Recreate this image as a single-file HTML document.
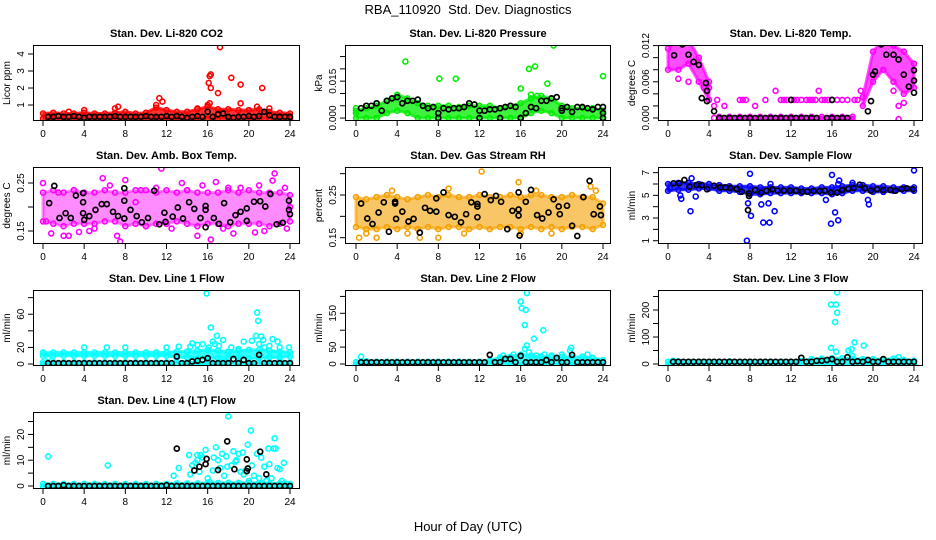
<!DOCTYPE html>
<html><head><meta charset="utf-8"><title>RBA_110920 Std. Dev. Diagnostics</title>
<style>
html,body{margin:0;padding:0;background:#fff;}
svg{display:block;font-family:"Liberation Sans",Arial,sans-serif;}
</style></head>
<body>
<svg id="chart" width="936" height="540" viewBox="0 0 936 540">
<text x="468" y="14" text-anchor="middle" font-size="13">RBA_110920&#160; Std. Dev. Diagnostics</text>
<text x="468" y="531" text-anchor="middle" font-size="13">Hour of Day (UTC)</text>
</svg>
<script>
// ---- shared categories ----
const hours = [0,1,2,3,4,5,6,7,8,9,10,11,12,13,14,15,16,17,18,19,20,21,22,23,24];
const halfHours = [0.5,1,1.5,2,2.5,3,3.5,4,4.5,5,5.5,6,6.5,7,7.5,8,8.5,9,9.5,10,10.5,11,11.5,12,12.5,13,13.5,14,14.5,15,15.5,16,16.5,17,17.5,18,18.5,19,19.5,20,20.5,21,21.5,22,22.5,23,23.5,24];
const xTicks = [0,4,8,12,16,20,24];

// ---- Panel 1: CO2 ----
const co2Lo = [0.2,0.2,0.2,0.2,0.2,0.2,0.2,0.2,0.2,0.2,0.2,0.2,0.2,0.2,0.2,0.2,0.2,0.2,0.2,0.2,0.2,0.2,0.2,0.2,0.2];
const co2Hi = [0.5,0.55,0.5,0.5,0.55,0.5,0.5,0.55,0.6,0.5,0.55,0.85,0.7,0.6,0.6,0.75,0.9,0.75,0.75,0.7,0.7,0.75,0.6,0.55,0.5];
const co2Extra = [[16.2,2.7],[16.3,2.8],[16.1,2.3],[16.3,2.0],[16.2,1.1],[16,1.0],[17.2,4.4],[17,1.7],[18.3,2.6],[19.2,2.2],[19.2,1.1],[21.3,2.0],[11,1.0],[11.3,1.4],[11.6,1.2],[7,0.8],[7.3,0.9],[15,0.8],[20.8,0.9],[22,0.8],[4,0.7],[2.5,0.6]];
const co2Black = [0.3,0.3,0.35,0.3,0.3,0.35,0.3,0.25,0.3,0.3,0.3,0.3,0.3,0.35,0.3,0.3,0.3,0.3,0.3,0.35,0.3,0.3,0.3,0.35,0.3,0.35,0.3,0.25,0.3,0.35,0.3,0.6,0.3,0.45,0.5,0.3,0.25,0.3,0.3,0.35,0.3,0.35,0.6,0.4,0.3,0.3,0.3,0.3];

// ---- Panel 2: Pressure ----
const presLo = [0,0,0,0.002,0.003,0.002,0,0,0,0,0,0,0,0,0,0,0,0.002,0.003,0.002,0,0,0,0,0];
const presHi = [0.003,0.004,0.005,0.007,0.0095,0.008,0.006,0.005,0.005,0.005,0.0045,0.005,0.005,0.005,0.004,0.005,0.006,0.008,0.009,0.008,0.005,0.004,0.004,0.004,0.003];
const presExtra = [[4.8,0.023],[8.1,0.016],[9.7,0.016],[16,0.012],[16.8,0.020],[17.4,0.021],[17.0,0.0095],[17.6,0.009],[18.6,0.014],[19.2,0.0295],[24,0.017],[2,0.006],[0,0.002],[0,0.004]];
const presBlack = [0.004,0.005,0.005,0.006,0.003,0.007,0.008,0.0085,0.006,0.007,0.007,0.0075,0.005,0.004,0.0045,0.002,0.004,0.0035,0.004,0.004,0.0045,0.006,0.0055,0.003,0.003,0.0035,0.0035,0.004,0.0045,0.005,0.0045,0.0,0.002,0.0045,0.004,0.007,0.007,0.008,0.0085,0.003,0.0045,0.0025,0.0045,0.0045,0.004,0.0035,0.0045,0.0045];
const presBlackExtra = [[8,0],[12,0],[14,0],[16,0],[24,0],[24,0.002],[20,0.004]];

// ---- Panel 3: Temp ----
const tempLo = [0.008,0.008,0.009,0.006,0.003,null,null,null,null,null,null,null,null,null,null,null,null,null,null,0.002,0.006,0.008,0.006,0.004,0.005];
const tempHi = [0.0115,0.013,0.013,0.010,0.006,null,null,null,null,null,null,null,null,null,null,null,null,null,null,0.0035,0.011,0.013,0.012,0.011,0.009];
const tempZeroLo = [null,null,null,null,null,-0.0002,-0.0002,-0.0002,-0.0002,-0.0002,-0.0002,-0.0002,-0.0002,-0.0002,-0.0002,-0.0002,-0.0002,-0.0002,-0.0002,null,null,null,null,null,null];
const tempZeroHi = [null,null,null,null,null,0.0002,0.0002,0.0002,0.0002,0.0002,0.0002,0.0002,0.0002,0.0002,0.0002,0.0002,0.0002,0.0002,0.0002,null,null,null,null,null,null];
const tempExtra = [[4.5,0],[4.5,0.002],[4.8,0.003],[5.5,0.002],[7,0.003],[8.5,0.002],[9.5,0.003],[10.5,0.0045],[11,0.003],[11.3,0.003],[11.6,0.003],[12,0.003],[12.3,0.003],[12.6,0.003],[13.5,0.003],[13.8,0.003],[14.1,0.003],[14.4,0.003],[14.7,0.0045],[15,0.003],[15.3,0.003],[15.6,0.003],[16,0.003],[17,0.003],[18.5,0.003],[18.8,0.0045],[1,0.0065],[2,0.006],[3.5,0.005],[4,0.005],[22.5,0.002],[22.5,-0.0002],[22,0.0045],[23,0.0025],[7.3,0.003],[7.6,0.003],[13,0.003],[16.5,0.003],[17.5,0.003],[18.2,0.003]];
const tempBlack = [[0.6,0.0104],[1.4,0.0122],[2.0,0.0105],[2.5,0.0093],[3.0,0.0088],[3.7,0.0058],[3.8,0.0045],[3.3,0.0033],[3.8,0.0028],[4.5,0.0011],[5,0],[5.5,0],[6,0],[6.5,0],[7,0],[7.5,0],[8,0],[8.5,0],[9,0],[9.5,0],[10,0],[10.5,0],[11,0],[11.5,0],[12,0],[12,0.003],[12.5,0],[13,0],[13.5,0],[14,0],[14.5,0],[15.5,0],[16,0],[16,0.003],[16.5,0],[17,0],[17.5,0],[19.5,0.0011],[19.8,0.0028],[20.2,0.0077],[20,0.0072],[20.8,0.0122],[21.3,0.0105],[22,0.0105],[22.5,0.0097],[23,0.0072],[23.5,0.0052],[24,0.0062],[24,0.0042],[24,0.0079]];

// ---- Panel 4: Amb Box Temp ----
const ambLo = [0.17,0.165,0.16,0.165,0.165,0.165,0.17,0.17,0.16,0.165,0.16,0.165,0.165,0.17,0.165,0.16,0.165,0.165,0.16,0.165,0.165,0.165,0.16,0.165,0.17];
const ambHi = [0.23,0.235,0.23,0.235,0.23,0.23,0.235,0.23,0.23,0.235,0.235,0.23,0.235,0.23,0.235,0.23,0.23,0.23,0.235,0.23,0.235,0.23,0.23,0.23,0.225];
const ambExtra = [[0,0.25],[0.3,0.17],[0.8,0.145],[2,0.14],[2.5,0.14],[3.5,0.148],[5.8,0.26],[6.5,0.245],[7.5,0.128],[7.2,0.14],[8,0.256],[9,0.21],[11.5,0.28],[11,0.24],[13.5,0.25],[15,0.14],[15.5,0.245],[16.3,0.132],[16.8,0.252],[18.5,0.145],[19.2,0.24],[20,0.288],[20.6,0.147],[21.5,0.15],[22.5,0.27],[22.3,0.255],[23.5,0.24],[23.7,0.155],[24,0.2],[4.5,0.15],[10,0.16],[12.5,0.155],[18,0.24],[1.5,0.23],[3,0.235],[14,0.235],[9.5,0.235],[5,0.155],[17.5,0.155],[21,0.245]];
const ambBlack = [[0.6,0.208],[1.1,0.244],[1.6,0.177],[2.2,0.187],[2.7,0.177],[3.2,0.224],[3.9,0.21],[3.9,0.229],[3.9,0.187],[4,0.173],[4.5,0.181],[5.1,0.194],[5.7,0.206],[6.2,0.206],[6.8,0.19],[7.3,0.181],[7.9,0.239],[7.9,0.213],[7.9,0.176],[8.5,0.194],[9.1,0.181],[9.6,0.168],[10.2,0.177],[10.8,0.234],[11.3,0.164],[11.8,0.188],[11.9,0.169],[12.6,0.18],[13.1,0.199],[13.6,0.176],[14.2,0.21],[14.7,0.196],[15.3,0.177],[15.8,0.202],[15.8,0.194],[15.8,0.158],[16.6,0.177],[17.1,0.165],[17.6,0.208],[18.2,0.168],[18.7,0.183],[19.2,0.19],[19.8,0.197],[19.8,0.171],[20.5,0.211],[21.1,0.212],[21.6,0.201],[22.1,0.227],[22.7,0.164],[23.3,0.167],[23.9,0.213],[23.9,0.194],[24,0.185]];

// ---- Panel 5: Gas Stream RH ----
const rhLo = [0.175,0.17,0.17,0.175,0.17,0.175,0.17,0.175,0.17,0.175,0.175,0.17,0.175,0.17,0.175,0.175,0.17,0.175,0.17,0.175,0.17,0.175,0.175,0.17,0.18];
const rhHi = [0.245,0.24,0.245,0.25,0.245,0.24,0.245,0.25,0.245,0.25,0.245,0.245,0.25,0.245,0.245,0.25,0.245,0.25,0.25,0.245,0.245,0.25,0.245,0.245,0.23];
const rhExtra = [[12.2,0.305],[15.8,0.28],[3.5,0.26],[0.3,0.15],[6.2,0.15],[8,0.15],[23.3,0.26],[2,0.15],[10.5,0.16],[16,0.16],[5,0.16],[19,0.16],[17.5,0.26],[9,0.265],[1,0.16],[22.8,0.27]];
const rhBlack = [[0.5,0.23],[1.1,0.195],[1.6,0.182],[2.2,0.209],[2.7,0.233],[3.2,0.164],[3.8,0.234],[3.8,0.23],[3.9,0.194],[4.5,0.211],[5.1,0.188],[5.6,0.194],[6.2,0.162],[6.7,0.22],[7.2,0.213],[7.8,0.242],[7.8,0.211],[8.5,0.256],[9,0.203],[9.6,0.199],[10.2,0.186],[10.7,0.205],[11.2,0.233],[11.8,0.229],[11.8,0.198],[11.8,0.223],[12.5,0.252],[13.1,0.238],[13.6,0.248],[14.1,0.234],[14.7,0.17],[15.2,0.213],[15.8,0.256],[15.8,0.216],[15.8,0.202],[15.9,0.155],[16.5,0.234],[17,0.262],[17.6,0.203],[18.1,0.195],[18.7,0.209],[19.2,0.24],[19.7,0.223],[19.8,0.205],[20.5,0.225],[21,0.178],[21.5,0.154],[22.1,0.245],[22.7,0.283],[23.1,0.205],[23.7,0.223],[23.8,0.203]];

// ---- Panel 6: Sample Flow ----
const flowLo = [5.4,5.5,5.5,5.6,5.6,5.4,5.4,5.3,5.1,5.1,5.2,5.2,5.2,5.2,5.2,5.2,5.1,5.2,5.4,5.4,5.3,5.3,5.4,5.4,5.4];
const flowHi = [6.0,6.1,6.1,6.0,6.0,5.9,5.8,5.8,5.8,5.7,5.7,5.7,5.7,5.6,5.6,5.7,5.7,5.8,5.9,5.9,5.8,5.8,5.7,5.7,5.7];
const flowExtra = [[2.3,6.5],[2.2,3.6],[2.7,4.9],[1.2,5.0],[1.3,4.7],[7.7,1.0],[7.8,4.3],[8.0,6.9],[8.1,3.2],[9.1,4.2],[9.3,2.6],[9.8,4.3],[9.9,2.6],[10.4,3.6],[15.9,2.5],[16.0,6.8],[16.3,3.5],[16.6,2.8],[16.6,6.0],[16.7,6.3],[15.4,4.6],[19.5,4.6],[19.6,4.2],[24,7.2],[0.2,5.6],[10,6.0],[18,6.1]];
const flowBlack = [[0.55,6.06],[1.1,6.06],[1.6,6.35],[2.1,5.76],[2.8,5.91],[3.3,5.91],[3.8,5.53],[4.5,5.85],[5.1,5.7],[5.6,5.7],[6.1,5.65],[6.7,5.56],[7.2,5.32],[7.8,3.7],[7.9,5.18],[7.9,4.94],[8.5,5.47],[9.1,5.24],[9.6,5.41],[10.2,5.53],[10.7,5.41],[11.3,5.41],[11.9,5.41],[12.5,5.41],[13.1,5.32],[13.6,5.32],[14.2,5.38],[14.8,5.38],[15.3,5.41],[15.9,5.24],[16.5,5.24],[17,5.47],[17.6,5.59],[18.1,5.65],[18.7,5.94],[19.2,5.62],[19.8,5.41],[20.4,5.53],[21,5.47],[21.7,5.47],[22.2,5.41],[22.8,5.56],[23.3,5.62],[23.9,5.53]];

// ---- Panel 7: Line 1 Flow ----
const l1ZeroLo = [-1,-1,-1,-1,-1,-1,-1,-1,-1,-1,-1,-1,-1,-1,-1,-1,-1,-1,-1,-1,-1,-1,-1,-1,-1];
const l1ZeroHi = [2,2,2,2,2,2,2,2,2,2,2,2,2,2,2,2,2,2,2,2,2,2,2,2,2];
const l1Lo = [10,10,10,10,10,10,10,10,10,10,10,10,10,8,8,7,7,7,8,8,7,7,8,8,9];
const l1Hi = [14,14,14,14,14,14,14,14,14,14,14,14,14,15,15,16,17,16,15,16,17,17,16,15,14];
const l1Extra = [[0.5,8],[4,20],[6.2,20],[8,20],[12,20],[13.2,21],[14.5,25],[14.3,21],[15,23],[15.5,24],[15.9,91],[15.9,85],[16.3,44],[16.5,27],[16.9,34],[17.1,22],[17.5,29],[18.3,20],[19.5,27],[20.3,28],[20.7,34],[20.8,62],[20.9,52],[21.2,33],[21.4,29],[21.5,20],[22.3,30],[22.8,27],[23.0,20],[23.9,20],[16.1,20],[16.7,24],[19,18],[21,24],[22,22],[17.5,3],[19,4],[21.8,4],[23,4]];
const l1Black = [1,1,1,1,1,1,1,1,1,1,1,1,1,1,1,1,1,1,1,1,1,1,1,1,1,9,1,1,3,4,5,7,1,1,1,1,6,1,5,1,1,11,1,1,1,1,1,1];

// ---- Panel 8: Line 2 Flow ----
const l2Lo = [-2,-2,-2,-2,-2,-2,-2,-2,-2,-2,-2,-2,-2,-2,-2,-2,-2,-2,-2,-2,-2,-2,-2,-2,-2];
const l2Hi = [6,8,7,7,7,7,7,7,7,7,7,7,7,10,20,22,28,25,22,20,22,20,22,18,12];
const l2Extra = [[0.5,22],[16,185],[16.1,165],[16.5,160],[16.6,210],[16.4,115],[16.6,55],[16.4,45],[16.8,35],[17.3,75],[18.2,100],[20.9,48],[20.8,40],[22.5,28],[17.5,25],[14.3,25],[15.3,28],[18.3,28],[19,25],[20,28]];
const l2Black = [5,5,5,5,5,5,5,5,5,5,5,5,5,5,5,5,5,5,5,5,5,5,5,5,5,27,5,5,15,15,5,24,5,5,5,5,12,5,18,5,5,27,5,5,5,5,5,5];

// ---- Panel 9: Line 3 Flow ----
const l3Lo = [-3,-3,-3,-3,-3,-3,-3,-3,-3,-3,-3,-3,-3,-3,-3,-3,-3,-3,-3,-3,-3,-3,-3,-3,-3];
const l3Hi = [8,10,9,9,9,9,10,9,9,9,9,9,9,12,18,20,22,22,20,18,18,17,20,16,12];
const l3Extra = [[15.9,220],[16.4,220],[16.5,190],[16.3,155],[16.5,265],[15.9,60],[16.4,45],[17.6,50],[17.9,55],[18.2,80],[19.1,68],[18,30],[22.5,25],[0.5,12]];
const l3Black = [8,8,8,8,8,8,8,8,8,8,8,8,8,8,8,8,8,8,8,8,8,8,8,8,8,23,8,8,12,12,15,18,8,8,25,8,10,8,15,8,8,18,8,8,8,8,8,8];

// ---- Panel 10: Line 4 (LT) Flow ----
const l4Lo = [-0.4,-0.4,-0.4,-0.4,-0.4,-0.4,-0.4,-0.4,-0.4,-0.4,-0.4,-0.4,-0.4,-0.4,-0.4,-0.4,-0.4,-0.4,-0.4,-0.4,-0.4,-0.4,-0.4,-0.4,-0.4];
const l4Hi = [0.8,0.8,0.8,0.8,0.8,0.8,0.8,0.8,0.8,0.8,0.8,0.8,0.8,1,1,1,1.2,1.2,1.2,1.2,1.2,1.2,1,1,0.8];
const l4Extra = [[0.5,11.5],[6.3,8],[12.7,4],[13.2,7],[14.2,12],[14.3,4.5],[14.5,8],[15,10],[15,12],[15.2,5.5],[15.5,11],[15.8,14],[16.2,1.5],[16.5,6],[16.8,15],[17,10],[17.2,7],[17.4,12.5],[17.6,4],[17.8,11.5],[17.9,7.5],[18,27],[18.3,8],[18.5,13.5],[18.8,10],[19,12.5],[19.2,5.5],[19.4,13],[19.5,4.5],[19.7,6],[19.9,16],[20.2,21.5],[20.3,8],[20.5,4],[20.8,12.5],[21,3],[21.2,11],[21.5,7.5],[21.7,2],[21.9,14.5],[22,8.5],[22.2,3],[22.4,14.5],[22.5,18.5],[22.6,14.5],[22.8,7],[23,6.5],[23.2,2],[23.4,9],[23.5,1],[21.3,1],[16,3],[20,2],[14.8,9],[15.3,12],[16.6,11],[18.7,9.5]];
const l4Black = [0,0,0,0.3,0,0,0,0,0,0,0,0,0,0,0,0,0,0,0,0,0,0,0,0.3,0,0,0,0,0,0,0,0,0,0,0,0,0,0,0,0,0,0,0,0,0,0,0,0];
const l4BlackExtra = [[13,14.5],[14.7,6],[15.2,7.5],[15.8,8.5],[15.9,10.5],[17,6.2],[17.9,17.3],[18.6,6.5],[19.8,10.3],[19.8,5.8],[19.9,6.8],[21.1,13.3],[21.7,4.5]];

// ---- layout ----
const colL = [33,345,658], colR = [300,611,923], colX0 = [43,356,668], colX24 = [290,603,914];
const rowT = [45,167,290,412], rowB = [121,244,366,489];

function pairs(xs, ys){ return xs.map((x,i)=>[x, ys[i]]); }

const panels = [
 {id:'co2',title:'Stan. Dev. Li-820 CO2',ylab:'Licor ppm',col:'#ff0000',op:0.8,r:0,c:0,dom:[0.06,4.53],ticks:[1,2,3,4],labs:['1','2','3','4'],
  bands:[[co2Lo,co2Hi]],extra:co2Extra,black:pairs(halfHours,co2Black)},
 {id:'pressure',title:'Stan. Dev. Li-820 Pressure',ylab:'kPa',col:'#00ee00',op:0.75,r:0,c:1,dom:[-0.0012,0.0297],ticks:[0,0.005,0.01,0.015,0.02,0.025],labs:['0.000','','','0.015','',''],
  bands:[[presLo,presHi]],extra:presExtra,black:pairs(halfHours,presBlack).concat(presBlackExtra)},
 {id:'temp',title:'Stan. Dev. Li-820 Temp.',ylab:'degrees C',col:'#ff00ff',op:0.7,r:0,c:2,dom:[-0.0005,0.0121],ticks:[0,0.002,0.004,0.006,0.008,0.01,0.012],labs:['0.000','','','0.006','','','0.012'],
  bands:[[tempLo,tempHi],[tempZeroLo,tempZeroHi]],extra:tempExtra,black:tempBlack},
 {id:'amb-box-temp',title:'Stan. Dev. Amb. Box Temp.',ylab:'degrees C',col:'#ff00ff',op:0.45,r:1,c:0,dom:[0.1229,0.2833],ticks:[0.15,0.2,0.25],labs:['0.15','','0.25'],
  bands:[[ambLo,ambHi]],extra:ambExtra,black:ambBlack},
 {id:'gas-rh',title:'Stan. Dev. Gas Stream RH',ylab:'percent',col:'#f5a000',op:0.6,r:1,c:1,dom:[0.1352,0.3156],ticks:[0.15,0.2,0.25,0.3],labs:['0.15','','0.25',''],
  bands:[[rhLo,rhHi]],extra:rhExtra,black:rhBlack},
 {id:'sample-flow',title:'Stan. Dev. Sample Flow',ylab:'ml/min',col:'#0000ff',op:0.8,r:1,c:2,dom:[0.71,7.5],ticks:[1,2,3,4,5,6,7],labs:['1','','3','','5','','7'],
  bands:[[flowLo,flowHi]],extra:flowExtra,black:flowBlack},
 {id:'line1-flow',title:'Stan. Dev. Line 1 Flow',ylab:'ml/min',col:'#00ffff',op:0.8,r:2,c:0,dom:[-2.4,89.2],ticks:[0,20,40,60,80],labs:['0','20','','60',''],
  bands:[[l1ZeroLo,l1ZeroHi],[l1Lo,l1Hi]],extra:l1Extra,black:pairs(halfHours,l1Black)},
 {id:'line2-flow',title:'Stan. Dev. Line 2 Flow',ylab:'ml/min',col:'#00ffff',op:0.8,r:2,c:1,dom:[-5.9,219],ticks:[0,50,100,150,200],labs:['0','50','','150',''],
  bands:[[l2Lo,l2Hi]],extra:l2Extra,black:pairs(halfHours,l2Black)},
 {id:'line3-flow',title:'Stan. Dev. Line 3 Flow',ylab:'ml/min',col:'#00ffff',op:0.8,r:2,c:2,dom:[-7.4,274],ticks:[0,50,100,150,200,250],labs:['0','','100','','200',''],
  bands:[[l3Lo,l3Hi]],extra:l3Extra,black:pairs(halfHours,l3Black)},
 {id:'line4-flow',title:'Stan. Dev. Line 4 (LT) Flow',ylab:'ml/min',col:'#00ffff',op:0.8,r:3,c:0,dom:[-1.16,28.7],ticks:[0,5,10,15,20,25],labs:['0','','10','','20',''],
  bands:[[l4Lo,l4Hi]],extra:l4Extra,black:pairs(halfHours,l4Black).concat(l4BlackExtra)}
];

const NS='http://www.w3.org/2000/svg';
const svg=document.getElementById('chart');
function mk(tag, attrs, parent){
  const e=document.createElementNS(NS,tag);
  for(const k in attrs) e.setAttribute(k,attrs[k]);
  parent.appendChild(e); return e;
}

panels.forEach(p=>{
  const L=colL[p.c], R=colR[p.c], T=rowT[p.r], B=rowB[p.r];
  const x0=colX0[p.c], x24=colX24[p.c];
  const xs=h=>x0+(h/24)*(x24-x0);
  const ys=v=>B-(v-p.dom[0])/(p.dom[1]-p.dom[0])*(B-T);
  const g=mk('g',{},svg);
  
  
  const clipId='clip-'+p.id;
  const cp=mk('clipPath',{id:clipId},g);
  mk('rect',{x:L,y:T,width:R-L,height:B-T},cp);
  const plot=mk('g',{'clip-path':'url(#'+clipId+')'},g);
  
  
  p.bands.forEach((bd)=>{
    const lo=bd[0], hi=bd[1];
    let seg=[];
    const segs=[];
    hours.forEach((h,i)=>{
      if(lo[i]===null||hi[i]===null){ if(seg.length) segs.push(seg); seg=[]; }
      else seg.push(i);
    });
    if(seg.length) segs.push(seg);
    segs.forEach(s=>{
      let d='';
      s.forEach((i,k)=>{ d+=(k?'L':'M')+xs(hours[i]).toFixed(1)+' '+ys(hi[i]).toFixed(1); });
      for(let k=s.length-1;k>=0;k--){ const i=s[k]; d+='L'+xs(hours[i]).toFixed(1)+' '+ys(lo[i]).toFixed(1); }
      d+='Z';
      const path=mk('path',{d:d,fill:p.col,'fill-opacity':p.op,stroke:p.col,'stroke-opacity':p.op,'stroke-width':3,'stroke-linejoin':'round'},plot);
      
      
      s.forEach(i=>{
        [lo[i],hi[i]].forEach(v=>{
          const c=mk('circle',{cx:xs(hours[i]).toFixed(1),cy:ys(v).toFixed(1),r:2.5,fill:'none',stroke:p.col,'stroke-width':1.5},plot);
          
          
        });
      });
    });
  });
  p.extra.forEach(pt=>{
    const c=mk('circle',{cx:xs(pt[0]).toFixed(1),cy:ys(pt[1]).toFixed(1),r:2.5,fill:'none',stroke:p.col,'stroke-width':1.6},plot);
    
    
  });
  p.black.forEach(pt=>{
    const c=mk('circle',{cx:xs(pt[0]).toFixed(1),cy:ys(pt[1]).toFixed(1),r:2.5,fill:'none',stroke:'#000','stroke-width':1.7},plot);
    
    
  });
  const box=mk('rect',{x:L+0.5,y:T+0.5,width:R-L-1,height:B-T-1,fill:'none',stroke:'#000','stroke-width':1},g);
  
  
  const xa=mk('g',{},g);
  
  
  xTicks.forEach(t=>{
    const x=xs(t);
    mk('line',{x1:x,y1:B,x2:x,y2:B+5,stroke:'#000','stroke-width':1},xa);
    const tx=mk('text',{x:x,y:B+16,'text-anchor':'middle','font-size':10},xa);
    tx.textContent=t;
    
    
  });
  const ya=mk('g',{},g);
  
  
  p.ticks.forEach((t,i)=>{
    const y=ys(t);
    mk('line',{x1:L-5,y1:y,x2:L,y2:y,stroke:'#000','stroke-width':1},ya);
    if(p.labs[i]){
      const tx=mk('text',{x:0,y:0,'text-anchor':'middle','font-size':10,transform:'translate('+(L-9)+','+y.toFixed(1)+') rotate(-90)'},ya);
      tx.textContent=p.labs[i];
      
      
    }
  });
  const yl=mk('text',{x:0,y:0,'text-anchor':'middle','font-size':10,transform:'translate('+(L-23)+','+((T+B)/2).toFixed(1)+') rotate(-90)'},g);
  yl.textContent=p.ylab;
  
  
  const ti=mk('text',{x:(L+R)/2,y:T-8,'text-anchor':'middle','font-size':11,'font-weight':'bold'},g);
  ti.textContent=p.title;
  
  
});
</script>
</body></html>
